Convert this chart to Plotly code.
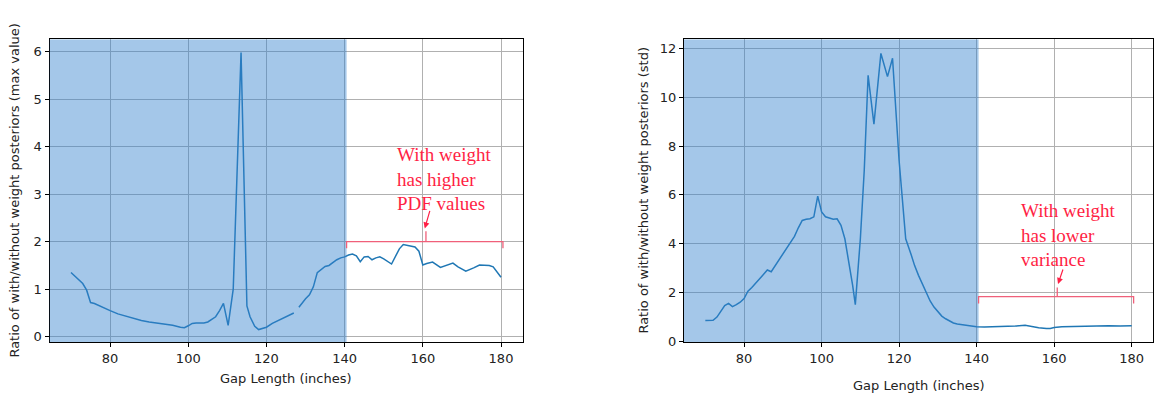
import plotly.graph_objects as go

# ---------------- data ----------------
max_x = [70, 71, 72, 73, 74, 75, 76, 77, 78, 79, 80, 82, 84, 86, 88, 90, 92, 94, 96, 98, 99,
         100, 101, 102, 104, 105, 106, 107, 108, 109, 110.2, 111.5, 113.5, 115, 115.8, 117, 118,
         119, 120, 121.5, 123, 125, 127, 127.6,
         128.3, 129, 130, 131, 132, 133, 134, 135, 136, 137, 138, 139, 140, 141, 142, 143, 144,
         145, 146, 147, 148, 149, 150, 152, 154, 155, 158, 159, 160, 161, 162.5, 164.5, 166,
         167.7, 169, 171, 173, 174.5, 177, 178, 180]
max_y = [1.35, 1.28, 1.2, 1.12, 0.98, 0.72, 0.7, 0.66, 0.62, 0.58, 0.55, 0.48, 0.43, 0.38, 0.34,
         0.31, 0.29, 0.27, 0.24, 0.2, 0.19, 0.23, 0.28, 0.29, 0.29, 0.31, 0.36, 0.42, 0.55, 0.7,
         0.24, 1.0, 5.98, 0.65, 0.42, 0.22, 0.15, 0.17, 0.2, 0.28, 0.34, 0.41, 0.5, None,
         0.62, 0.7, 0.8, 0.88, 1.05, 1.35, 1.42, 1.48, 1.5, 1.57, 1.62, 1.66, 1.68, 1.72, 1.74,
         1.7, 1.58, 1.68, 1.69, 1.62, 1.66, 1.68, 1.64, 1.53, 1.85, 1.94, 1.89, 1.8, 1.51, 1.54,
         1.57, 1.46, 1.5, 1.55, 1.47, 1.38, 1.45, 1.51, 1.5, 1.47, 1.25]

std_x = [70, 71, 72, 73, 74, 75, 76, 77, 78, 79, 80, 81, 82, 83, 84, 85, 86, 87, 88, 89, 90, 91,
         92, 93, 94, 95, 96, 97, 98, 99, 100, 101, 102, 103, 104, 105, 106, 107, 108, 108.7, 110,
         111, 112, 113.5, 115.3, 117, 118.3, 120, 121.7, 123, 124, 125, 126, 127, 128, 129, 130,
         131, 132, 133, 134, 135, 136, 138, 140, 142, 145, 148, 150, 152.5, 154, 156, 158, 159,
         160, 162, 165, 168, 171, 174, 177, 180]
std_y = [0.85, 0.84, 0.86, 0.99, 1.2, 1.46, 1.55, 1.42, 1.5, 1.6, 1.75, 2.05, 2.2, 2.38, 2.55,
         2.7, 2.92, 2.85, 3.1, 3.35, 3.6, 3.85, 4.05, 4.3, 4.65, 4.95, 5.0, 5.02, 5.1, 5.95, 5.3,
         5.1, 5.05, 5.0, 5.02, 4.75, 4.2, 3.3, 2.3, 1.5, 4.2, 7.0, 10.9, 8.9, 11.8, 10.85, 11.6,
         7.4, 4.2, 3.6, 3.1, 2.7, 2.35, 2.0, 1.65, 1.4, 1.2, 1.03, 0.92, 0.82, 0.75, 0.71, 0.68,
         0.63, 0.59, 0.58, 0.59, 0.6, 0.62, 0.65, 0.6, 0.55, 0.52, 0.52, 0.56, 0.59, 0.6, 0.62,
         0.63, 0.63, 0.62, 0.63]

x_ticks = [80, 100, 120, 140, 160, 180]
max_ticks = [0, 1, 2, 3, 4, 5, 6]
std_ticks = [0, 2, 4, 6, 8, 10, 12]

shade_end = 140.5
bracket_x = [140.5, 180.5]
max_bracket_y = 2.0
std_bracket_y = 1.83
max_text = "With weight<br>has higher<br>PDF values"
std_text = "With weight<br>has lower<br>variance"
x_title = "Gap Length (inches)"
max_title = "Ratio of with/without weight posteriors (max value)"
std_title = "Ratio of with/without weight posteriors (std)"

# ---------------- figure ----------------
W, H = 1159, 402
LINE = "#1f77b4"
SHADE = "rgba(53,131,206,0.45)"
RED_T = "#ff1f45"
RED_L = "#f0607a"
FONT = "DejaVu Sans"

fig = go.Figure()
fig.add_trace(go.Scatter(x=max_x, y=max_y, mode="lines", line=dict(color=LINE, width=1.5),
                         xaxis="x", yaxis="y", showlegend=False, connectgaps=False))
fig.add_trace(go.Scatter(x=std_x, y=std_y, mode="lines", line=dict(color=LINE, width=1.5),
                         xaxis="x2", yaxis="y2", showlegend=False))

ydom = [1 - 348 / H, 1 - 40 / H]
ax_common = dict(showline=True, linecolor="black", linewidth=1, mirror=True, ticks="outside",
                 ticklen=4, tickcolor="black", showgrid=True, gridcolor="#b0b0b0", gridwidth=0.8,
                 zeroline=False, tickfont=dict(family=FONT, size=13, color="#222"))

fig.update_layout(
    width=W, height=H, margin=dict(l=0, r=0, t=0, b=0),
    paper_bgcolor="white", plot_bgcolor="white",
    xaxis=dict(domain=[49.5 / W, 522.5 / W], range=[64.5, 185.5], tickvals=x_ticks,
               anchor="y", **ax_common),
    yaxis=dict(domain=ydom, range=[-0.11, 6.26], tickvals=max_ticks, anchor="x", **ax_common),
    xaxis2=dict(domain=[684 / W, 1153 / W], range=[64.5, 185.5], tickvals=x_ticks,
                anchor="y2", **ax_common),
    yaxis2=dict(domain=ydom, range=[-0.03, 12.38], tickvals=std_ticks, anchor="x2", **ax_common),
)

# shaded regions
shapes = [
    dict(type="rect", xref="x", yref="y", x0=64.5, x1=shade_end, y0=-0.11, y1=6.26,
         fillcolor=SHADE, line=dict(width=0), layer="above"),
    dict(type="rect", xref="x2", yref="y2", x0=64.5, x1=shade_end, y0=-0.03, y1=12.38,
         fillcolor=SHADE, line=dict(width=0), layer="above"),
]
# brackets
for xr, yr, by, tick, vtop in (("x", "y", max_bracket_y, 0.14, 2.22), ("x2", "y2", std_bracket_y, 0.28, 2.2)):
    shapes.append(dict(type="path", xref=xr, yref=yr,
                       path=f"M {bracket_x[0]},{by - tick} L {bracket_x[0]},{by} L {bracket_x[1]},{by} L {bracket_x[1]},{by - tick}",
                       line=dict(color=RED_L, width=1.3)))
    shapes.append(dict(type="line", xref=xr, yref=yr, x0=160.8, x1=160.8, y0=by, y1=vtop,
                       line=dict(color=RED_L, width=1.3)))
fig.update_layout(shapes=shapes)

annotations = [
    # axis titles
    dict(text=x_title, xref="paper", yref="paper", x=286 / W, y=1 - 385 / H, showarrow=False,
         xanchor="center", yanchor="middle", font=dict(family=FONT, size=13, color="#222")),
    dict(text=x_title, xref="paper", yref="paper", x=918.5 / W, y=1 - 392 / H, showarrow=False,
         xanchor="center", yanchor="middle", font=dict(family=FONT, size=13, color="#222")),
    dict(text=max_title, xref="paper", yref="paper", x=15 / W, y=1 - 194 / H, showarrow=False,
         textangle=-90, xanchor="center", yanchor="middle", font=dict(family=FONT, size=13, color="#222")),
    dict(text=std_title, xref="paper", yref="paper", x=644 / W, y=1 - 194 / H, showarrow=False,
         textangle=-90, xanchor="center", yanchor="middle", font=dict(family=FONT, size=13, color="#222")),
    # red texts
    dict(text=max_text, xref="x", yref="y", x=152.8, y=3.33, showarrow=False, align="left",
         xanchor="left", yanchor="middle", font=dict(family="Liberation Serif", size=19, color=RED_T)),
    dict(text=std_text, xref="x2", yref="y2", x=151.0, y=4.35, showarrow=False, align="left",
         xanchor="left", yanchor="middle", font=dict(family="Liberation Serif", size=19, color=RED_T)),
    # arrows
    dict(xref="x", yref="y", axref="x", ayref="y", x=160.5, y=2.28, ax=161.9, ay=2.68, text="",
         showarrow=True, arrowhead=2, arrowsize=1, arrowwidth=1.2, arrowcolor=RED_T, standoff=0),
    dict(xref="x2", yref="y2", axref="x2", ayref="y2", x=161.0, y=2.35, ax=162.4, ay=3.0, text="",
         showarrow=True, arrowhead=2, arrowsize=1, arrowwidth=1.2, arrowcolor=RED_T, standoff=0),
]
fig.update_layout(annotations=annotations)

fig.write_html("out.html")
